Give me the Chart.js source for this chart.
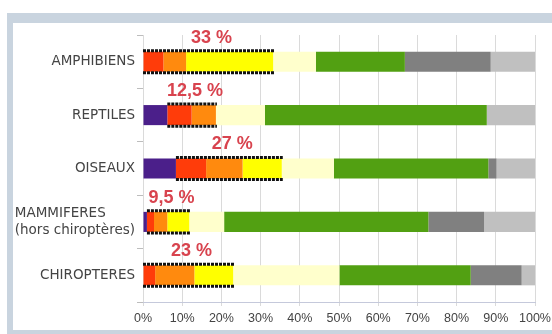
<!DOCTYPE html>
<html>
<head>
<meta charset="utf-8">
<script src="https://cdn.jsdelivr.net/npm/chart.js@4/dist/chart.umd.min.js"></script>
<style>
  html, body { margin: 0; padding: 0; background: #ffffff; }
  #wrap { position: relative; width: 552px; height: 334px; overflow: hidden; }
  #frame { position: absolute; left: 7px; top: 13px; width: 545px; height: 321px; background: #c9d4df; }
  #inner { position: absolute; left: 13px; top: 23px; right: 0; height: 307px; background: #ffffff; }
  canvas { position: absolute; left: 0; top: 0; }
</style>
</head>
<body>
<div id="wrap">
  <div id="frame"></div>
  <div id="inner"></div>
  <canvas id="c" width="552" height="334"></canvas>
</div>
<script>
// ---- Data (percent of species per IUCN red list category) ----
const categories = ['AMPHIBIENS', 'REPTILES', 'OISEAUX', ['MAMMIFERES', '(hors chiroptères)'], 'CHIROPTERES'];
const extinctRegional   = [0,    6.2,  8.4,  1.0,  0];
const criticallyEndang  = [5.2,  6.2,  7.7,  1.8,  3.1];
const endangered        = [5.8,  6.2,  9.3,  3.4,  10.0];
const vulnerable        = [22.2, 0,    10.0, 5.6,  9.9];
const nearThreatened    = [10.9, 12.5, 13.3, 8.9,  27.1];
const leastConcern      = [22.7, 56.6, 39.4, 52.1, 33.5];
const dataDeficient     = [21.9, 0,    2.1,  14.2, 13.0];
const notApplicable     = [11.3, 12.3, 9.8,  13.0, 3.4];
const threatenedLabels  = ['33 %', '12,5 %', '27 %', '9,5 %', '23 %'];
const xTickValues       = [0, 10, 20, 30, 40, 50, 60, 70, 80, 90, 100];

const seriesDefs = [
  ['RE',  extinctRegional,  '#4b1f8a'],
  ['CR',  criticallyEndang, '#ff3c0a'],
  ['EN',  endangered,       '#ff8a0e'],
  ['VU',  vulnerable,       '#ffff00'],
  ['NT',  nearThreatened,   '#ffffcc'],
  ['LC',  leastConcern,     '#52a012'],
  ['DD',  dataDeficient,    '#808080'],
  ['NA',  notApplicable,    '#c0c0c0']
];

const datasets = seriesDefs.map(([label, data, color]) => ({
  label, data, backgroundColor: color, borderWidth: 0,
  barPercentage: 0.8, categoryPercentage: 0.47
}));

// Category labels: each label block right-aligned at the axis, lines left-aligned within the block
const yLabelPlugin = {
  id: 'yLabels',
  afterDraw(chart) {
    const ctx = chart.ctx;
    const ys = chart.scales.y;
    const right = chart.chartArea.left - 8;
    const lineH = 17;
    ctx.save();
    ctx.font = '13.5px "DejaVu Sans", sans-serif';
    ctx.fillStyle = '#444444';
    ctx.textAlign = 'left';
    ctx.textBaseline = 'middle';
    categories.forEach((lab, i) => {
      const lines = Array.isArray(lab) ? lab : [lab];
      const w = Math.max(...lines.map(l => ctx.measureText(l).width));
      const yc = ys.getPixelForTick(i);
      const y0 = yc - (lines.length - 1) * lineH / 2;
      lines.forEach((l, k) => ctx.fillText(l, right - w, y0 + k * lineH));
    });
    ctx.restore();
  }
};

const threatPlugin = {
  id: 'threatBoxes',
  afterDatasetsDraw(chart) {
    const ctx = chart.ctx;
    const xs = chart.scales.x;
    const meta = chart.getDatasetMeta(0);
    categories.forEach((cat, i) => {
      const start = extinctRegional[i];
      const end = start + criticallyEndang[i] + endangered[i] + vulnerable[i];
      const el = meta.data[i];
      const half = el.height / 2;
      const top = el.y - half;
      const bottom = el.y + half;
      const x0 = xs.getPixelForValue(start);
      const x1 = xs.getPixelForValue(end) + 1;
      ctx.save();
      ctx.strokeStyle = '#111111';
      ctx.lineWidth = 3;
      ctx.setLineDash([3, 1]);
      ctx.beginPath();
      ctx.moveTo(x0, top - 1); ctx.lineTo(x1, top - 1);
      ctx.moveTo(x0, bottom + 1); ctx.lineTo(x1, bottom + 1);
      ctx.stroke();
      ctx.setLineDash([]);
      ctx.fillStyle = '#d8434e';
      ctx.font = 'bold 18px "Liberation Sans", Arial, sans-serif';
      ctx.textAlign = 'center';
      ctx.textBaseline = 'middle';
      ctx.fillText(threatenedLabels[i], (x0 + x1) / 2 + 3, top - 14);
      ctx.restore();
    });
  }
};

new Chart(document.getElementById('c'), {
  type: 'bar',
  data: { labels: categories, datasets },
  plugins: [threatPlugin, yLabelPlugin],
  options: {
    indexAxis: 'y',
    responsive: false,
    animation: false,
    layout: { padding: { left: 0, right: 17, top: 35, bottom: 0 } },
    plugins: { legend: { display: false }, tooltip: { enabled: false } },
    scales: {
      x: {
        stacked: true, min: 0, max: 100,
        afterFit(s) { s.height = 32; s.paddingLeft = 0; s.paddingRight = 0; s.paddingTop = 0; s.paddingBottom = 0; },
        afterBuildTicks(s) { s.ticks = xTickValues.map(v => ({ value: v })); },
        ticks: {
          callback: v => v + '%',
          color: '#444', padding: 5,
          font: { family: '"Liberation Sans", Arial, sans-serif', size: 12.5 }
        },
        grid: { color: '#dadada', tickLength: 4 },
        border: { color: '#c5c9db' }
      },
      y: {
        stacked: true,
        afterFit(s) { s.width = 143; s.paddingLeft = 0; s.paddingRight = 0; s.paddingTop = 0; s.paddingBottom = 0; },
        ticks: { display: false },
        grid: { drawOnChartArea: false, drawTicks: true, tickLength: 6, color: '#bdbdbd' },
        border: { display: false }
      }
    }
  }
});
</script>
</body>
</html>
